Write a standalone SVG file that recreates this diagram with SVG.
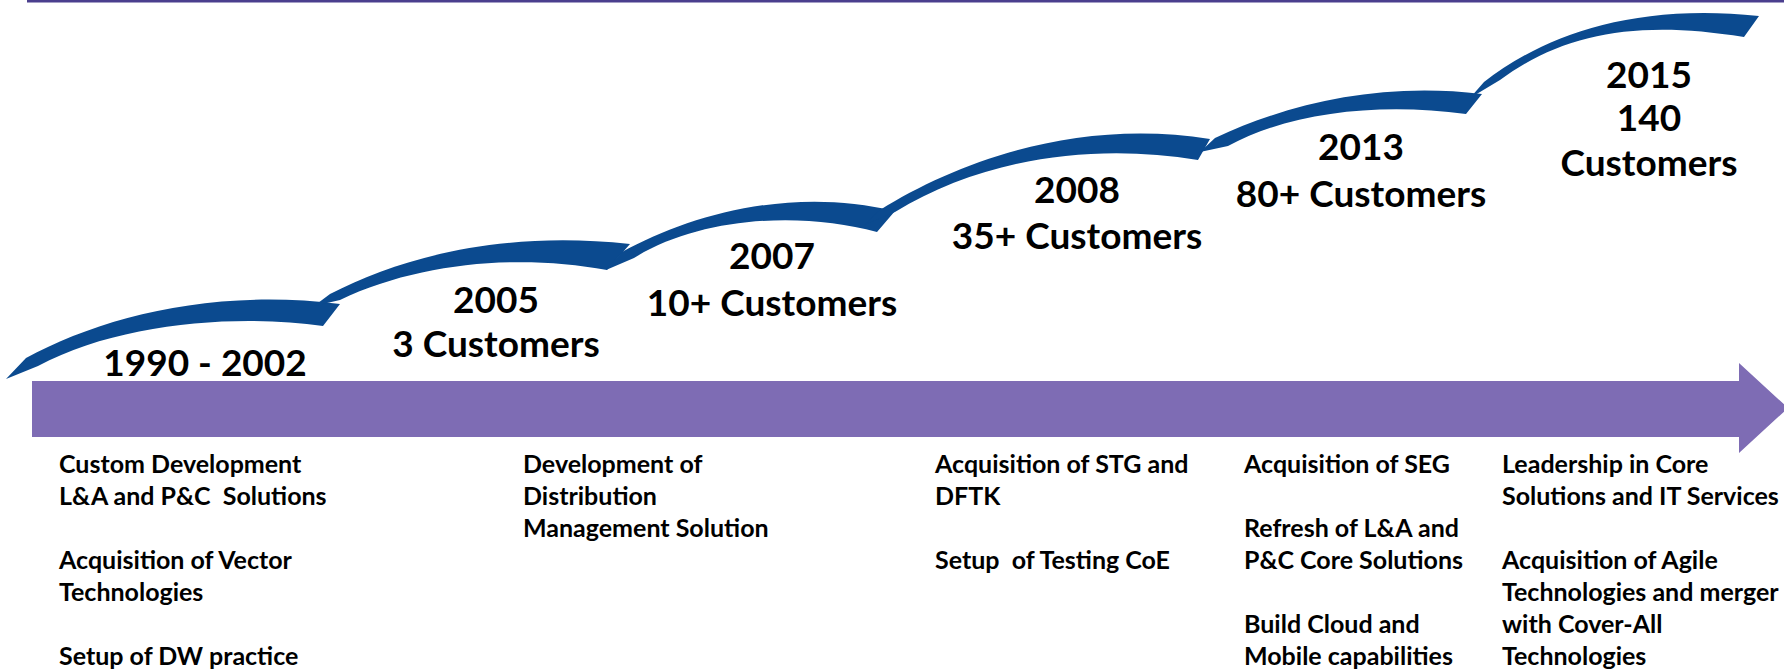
<svg xmlns="http://www.w3.org/2000/svg" width="1784" height="670" viewBox="0 0 1784 670">
<style>
.rib{fill:#0b4a8f;}
.big{font-family:Lato,"Liberation Sans",sans-serif;font-weight:bold;font-size:37px;fill:#000;text-anchor:middle;}
.sm{font-family:Lato,"Liberation Sans",sans-serif;font-weight:bold;font-size:25px;fill:#000;white-space:pre;}
</style>
<rect width="1784" height="670" fill="#fff"/>
<rect id="topline" x="27" y="0" width="1757" height="2.5" fill="#4b3f8e"/>
<g id="timeline-arrow">
<path d="M32,381 H1739 V363 L1788,408 L1739,453 V437 H32 Z" fill="#7e6cb4"/>
</g>
<g id="ribbons">
<path class="rib" d="M6,379 L26,358 C100,318 210,288 340,304 L323,326 C240,314 120,322 38,366 Z"/>
<path class="rib" d="M314,306 L330,294 C400,258 500,230 630,244 L607,270 C520,254 420,262 340,300 Z"/>
<path class="rib" d="M606,270 L622,252 C690,215 790,186 895,211 L877,232 C800,211 700,217 634,258 Z"/>
<path class="rib" d="M864,225 L880,210 C960,160 1080,118 1210,139 L1198,160 C1090,142 980,160 895,212 Z"/>
<path class="rib" d="M1200,152 L1215,138 C1290,103 1380,82 1482,94 L1466,114 C1380,102 1290,112 1228,146 Z"/>
<path class="rib" d="M1470,98 L1484,82 C1540,38 1630,2 1759,16 L1744,37 C1640,20 1565,32 1500,80 Z"/>
</g>
<g id="m1990">
<text class="big" x="205" y="376">1990 - 2002</text>
</g>
<g id="m2005">
<text class="big" x="496" y="313">2005</text>
<text class="big" x="496" y="357">3 Customers</text>
</g>
<g id="m2007">
<text class="big" x="772" y="269">2007</text>
<text class="big" x="772" y="316">10+ Customers</text>
</g>
<g id="m2008">
<text class="big" x="1077" y="203">2008</text>
<text class="big" x="1077" y="249">35+ Customers</text>
</g>
<g id="m2013">
<text class="big" x="1361" y="160">2013</text>
<text class="big" x="1361" y="207">80+ Customers</text>
</g>
<g id="m2015">
<text class="big" x="1649" y="88">2015</text>
<text class="big" x="1649" y="131">140</text>
<text class="big" x="1649" y="176">Customers</text>
</g>
<g id="col1">
<text class="sm" x="59" y="473">Custom Development</text>
<text class="sm" x="59" y="505">L&amp;A and P&amp;C  Solutions</text>
<text class="sm" x="59" y="569">Acquisition of Vector</text>
<text class="sm" x="59" y="601">Technologies</text>
<text class="sm" x="59" y="665">Setup of DW practice</text>
</g>
<g id="col2">
<text class="sm" x="523" y="473">Development of</text>
<text class="sm" x="523" y="505">Distribution</text>
<text class="sm" x="523" y="537">Management Solution</text>
</g>
<g id="col3">
<text class="sm" x="935" y="473">Acquisition of STG and</text>
<text class="sm" x="935" y="505">DFTK</text>
<text class="sm" x="935" y="569">Setup  of Testing CoE</text>
</g>
<g id="col4">
<text class="sm" x="1244" y="473">Acquisition of SEG</text>
<text class="sm" x="1244" y="537">Refresh of L&amp;A and</text>
<text class="sm" x="1244" y="569">P&amp;C Core Solutions</text>
<text class="sm" x="1244" y="633">Build Cloud and</text>
<text class="sm" x="1244" y="665">Mobile capabilities</text>
</g>
<g id="col5">
<text class="sm" x="1502" y="473">Leadership in Core</text>
<text class="sm" x="1502" y="505">Solutions and IT Services</text>
<text class="sm" x="1502" y="569">Acquisition of Agile</text>
<text class="sm" x="1502" y="601">Technologies and merger</text>
<text class="sm" x="1502" y="633">with Cover-All</text>
<text class="sm" x="1502" y="665">Technologies</text>
</g>
</svg>
